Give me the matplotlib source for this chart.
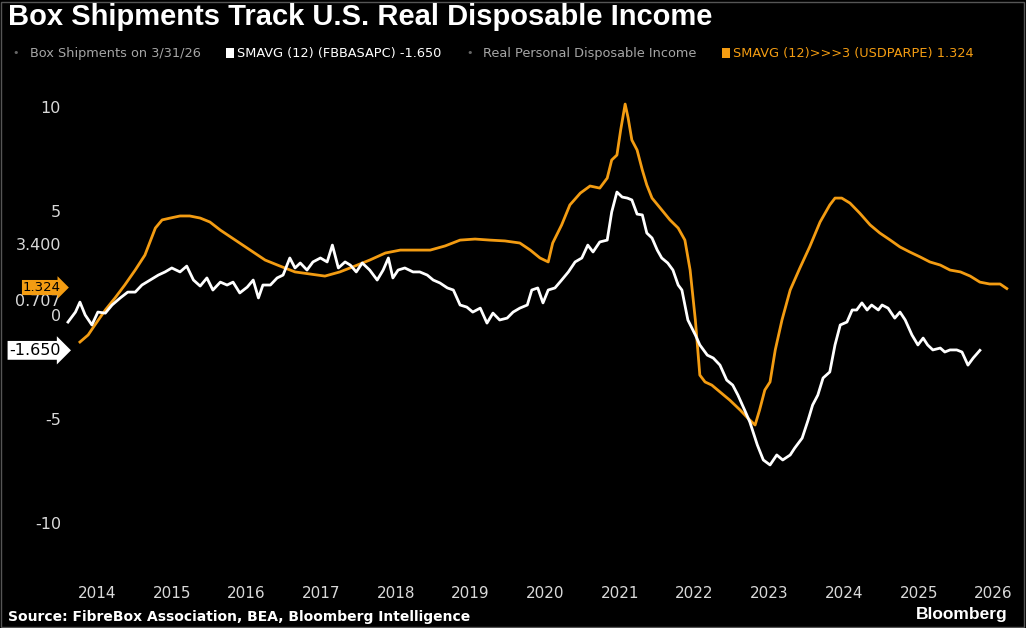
import matplotlib
matplotlib.use("Agg")
import matplotlib.pyplot as plt
from matplotlib.transforms import blended_transform_factory
from matplotlib.patches import Rectangle

# box shipments, 12-month SMA of YoY % (FBBASAPC)
box_t = [2013.61, 2013.71, 2013.77, 2013.84, 2013.93, 2014.01, 2014.11, 2014.20, 2014.31, 2014.41,
         2014.51, 2014.60, 2014.71, 2014.82, 2014.91, 2015.00, 2015.11, 2015.20, 2015.29, 2015.38,
         2015.47, 2015.55, 2015.65, 2015.74, 2015.82, 2015.91, 2016.01, 2016.09, 2016.16, 2016.22,
         2016.32, 2016.41, 2016.49, 2016.58, 2016.65, 2016.72, 2016.81, 2016.89, 2016.99, 2017.08,
         2017.15, 2017.23, 2017.32, 2017.39, 2017.47, 2017.55, 2017.65, 2017.75, 2017.83, 2017.90,
         2017.96, 2018.03, 2018.12, 2018.23, 2018.32, 2018.42, 2018.50, 2018.59, 2018.69, 2018.77,
         2018.86, 2018.95, 2019.03, 2019.13, 2019.22, 2019.30, 2019.39, 2019.49, 2019.57, 2019.66,
         2019.76, 2019.82, 2019.90, 2019.97, 2020.04, 2020.13, 2020.22, 2020.31, 2020.40, 2020.49,
         2020.57, 2020.64, 2020.73, 2020.83, 2020.89, 2020.96, 2021.03, 2021.10, 2021.16, 2021.23,
         2021.30, 2021.36, 2021.43, 2021.50, 2021.56, 2021.64, 2021.71, 2021.78, 2021.83, 2021.91,
         2022.01, 2022.07, 2022.17, 2022.25, 2022.34, 2022.43, 2022.51, 2022.58, 2022.67, 2022.74,
         2022.84, 2022.92, 2023.01, 2023.10, 2023.18, 2023.28, 2023.34, 2023.44, 2023.52, 2023.58,
         2023.65, 2023.72, 2023.81, 2023.88, 2023.95, 2024.04, 2024.11, 2024.17, 2024.24, 2024.31,
         2024.37, 2024.46, 2024.51, 2024.59, 2024.68, 2024.75, 2024.82, 2024.91, 2024.99, 2025.06,
         2025.12, 2025.19, 2025.29, 2025.35, 2025.42, 2025.51, 2025.58, 2025.66, 2025.73, 2025.82]
box_v = [-0.29, 0.19, 0.67, 0.05, -0.43, 0.19, 0.14, 0.53, 0.87, 1.15,
         1.15, 1.49, 1.73, 1.97, 2.12, 2.31, 2.12, 2.40, 1.73, 1.44,
         1.83, 1.25, 1.63, 1.49, 1.63, 1.11, 1.39, 1.73, 0.87, 1.49,
         1.49, 1.83, 1.97, 2.79, 2.31, 2.55, 2.21, 2.60, 2.79, 2.60,
         3.41, 2.31, 2.60, 2.45, 2.12, 2.55, 2.21, 1.73, 2.21, 2.79,
         1.83, 2.21, 2.31, 2.12, 2.12, 1.97, 1.73, 1.59, 1.35, 1.25,
         0.53, 0.43, 0.19, 0.38, -0.34, 0.14, -0.19, -0.10, 0.19, 0.38,
         0.53, 1.25, 1.35, 0.63, 1.25, 1.35, 1.73, 2.12, 2.60, 2.79,
         3.41, 3.08, 3.56, 3.65, 5.00, 5.96, 5.72, 5.67, 5.58, 4.90,
         4.86, 3.99, 3.75, 3.17, 2.79, 2.55, 2.21, 1.49, 1.25, -0.19,
         -0.91, -1.39, -1.88, -2.02, -2.36, -3.08, -3.32, -3.80, -4.52, -5.10,
         -6.20, -6.92, -7.16, -6.68, -6.92, -6.68, -6.35, -5.87, -5.00, -4.28,
         -3.80, -2.98, -2.69, -1.39, -0.43, -0.29, 0.29, 0.29, 0.63, 0.29,
         0.53, 0.29, 0.53, 0.38, -0.10, 0.19, -0.19, -0.91, -1.39, -1.06,
         -1.39, -1.63, -1.54, -1.73, -1.63, -1.63, -1.73, -2.36, -2.02, -1.65]

# real personal disposable income, 12-month SMA YoY %, led 3 months (USDPARPE)
inc_t = [2013.77, 2013.88, 2013.97, 2014.11, 2014.24, 2014.37, 2014.51, 2014.64, 2014.78, 2014.87,
         2014.98, 2015.11, 2015.24, 2015.38, 2015.51, 2015.65, 2015.85, 2016.05, 2016.25, 2016.45,
         2016.65, 2016.85, 2017.05, 2017.25, 2017.45, 2017.65, 2017.86, 2018.06, 2018.26, 2018.46,
         2018.66, 2018.86, 2019.06, 2019.26, 2019.46, 2019.66, 2019.80, 2019.93, 2020.04, 2020.10,
         2020.22, 2020.33, 2020.47, 2020.60, 2020.73, 2020.83, 2020.89, 2020.96, 2021.01, 2021.07,
         2021.11, 2021.16, 2021.23, 2021.30, 2021.36, 2021.43, 2021.54, 2021.67, 2021.78, 2021.87,
         2021.94, 2022.01, 2022.07, 2022.14, 2022.23, 2022.34, 2022.47, 2022.61, 2022.71, 2022.81,
         2022.87, 2022.94, 2023.01, 2023.08, 2023.17, 2023.28, 2023.41, 2023.54, 2023.68, 2023.81,
         2023.88, 2023.97, 2024.08, 2024.21, 2024.35, 2024.48, 2024.62, 2024.75, 2024.88, 2025.02,
         2025.15, 2025.29, 2025.42, 2025.56, 2025.69, 2025.82, 2025.95, 2026.09, 2026.18]
inc_v = [-1.25, -0.91, -0.43, 0.29, 0.87, 1.49, 2.21, 2.93, 4.23, 4.62,
         4.71, 4.81, 4.81, 4.71, 4.52, 4.13, 3.65, 3.17, 2.69, 2.40,
         2.12, 2.02, 1.92, 2.12, 2.40, 2.69, 3.03, 3.17, 3.17, 3.17,
         3.37, 3.65, 3.70, 3.65, 3.61, 3.51, 3.17, 2.79, 2.60, 3.51,
         4.38, 5.34, 5.91, 6.25, 6.15, 6.63, 7.50, 7.74, 8.94, 10.19,
         9.52, 8.46, 7.98, 7.02, 6.30, 5.67, 5.19, 4.62, 4.23, 3.65,
         2.21, -0.19, -2.84, -3.17, -3.32, -3.65, -4.04, -4.52, -4.90, -5.24,
         -4.52, -3.56, -3.17, -1.63, -0.19, 1.25, 2.31, 3.32, 4.52, 5.34,
         5.67, 5.67, 5.43, 4.95, 4.38, 3.99, 3.65, 3.32, 3.08, 2.84,
         2.60, 2.45, 2.21, 2.12, 1.92, 1.63, 1.54, 1.54, 1.32]

years = list(range(2014, 2027))
ytick_vals = [10, 5, 3.4, 0.707, 0, -5, -10]
ytick_labels = ["10", "5", "3.400", "0.707", "0", "-5", "-10"]

ORANGE = "#f39c12"; BG = "black"; GRAY = "#a6a6a6"

W, H = 1026, 628
fig = plt.figure(figsize=(W / 100, H / 100), dpi=100, facecolor=BG)
ax = fig.add_axes([65 / W, (H - 570) / H, 950 / W, 530 / H], facecolor=BG)
ax.set_xlim(2013.57, 2026.29)
ax.set_ylim(-12.21, 13.27)
for s in ax.spines.values():
    s.set_visible(False)
ax.set_xticks([]); ax.set_yticks([])

ax.plot(inc_t, inc_v, color=ORANGE, lw=2.0, zorder=3)
ax.plot(box_t, box_v, color="white", lw=2.0, zorder=4)

# y labels at left, right-aligned
tr = blended_transform_factory(fig.transFigure, ax.transData)
for v, lab in zip(ytick_vals, ytick_labels):
    ax.text(61 / W, v, lab, transform=tr, ha="right", va="center", color="#d9d9d9",
            fontsize=11.5, family="DejaVu Sans", clip_on=False, zorder=5)
ax.text(61 / W, inc_v[-1] + 0.05, "1.324", transform=tr, ha="right", va="center", color="black",
        fontsize=9.5, clip_on=False, zorder=6,
        bbox=dict(boxstyle="rarrow,pad=0.08", fc=ORANGE, ec="none"))
ax.text(61 / W, box_v[-1], "-1.650", transform=tr, ha="right", va="center", color="black",
        fontsize=11.5, clip_on=False, zorder=6,
        bbox=dict(boxstyle="rarrow,pad=0.12", fc="white", ec="none"))

# year labels below
trx = blended_transform_factory(ax.transData, fig.transFigure)
for yr in years:
    ax.text(yr, (H - 593) / H, str(yr), transform=trx, ha="center", va="center",
            color="#d9d9d9", fontsize=11, clip_on=False)

fig.text(8 / W, (H - 17) / H, "Box Shipments Track U.S. Real Disposable Income", color="white",
         fontsize=21, fontweight="bold", family="Liberation Sans", va="center")

# legend row
ly = (H - 53) / H
fig.text(12 / W, ly, "\u2022", color="#666666", fontsize=8, va="center")
fig.text(30 / W, ly, "Box Shipments on 3/31/26", color=GRAY, fontsize=9.3, va="center")
fig.add_artist(Rectangle((226 / W, ly - 0.008), 8 / W, 0.016, transform=fig.transFigure,
                         fc="white", ec="none"))
fig.text(237 / W, ly, "SMAVG (12) (FBBASAPC) -1.650", color="white", fontsize=9.3, va="center")
fig.text(466 / W, ly, "\u2022", color="#666666", fontsize=8, va="center")
fig.text(483 / W, ly, "Real Personal Disposable Income", color=GRAY, fontsize=9.3, va="center")
fig.add_artist(Rectangle((722 / W, ly - 0.008), 8 / W, 0.016, transform=fig.transFigure,
                         fc=ORANGE, ec="none"))
fig.text(733 / W, ly, "SMAVG (12)>>>3 (USDPARPE) 1.324", color=ORANGE, fontsize=9.3, va="center")

fig.text(8 / W, (H - 617) / H, "Source: FibreBox Association, BEA, Bloomberg Intelligence",
         color="white", fontsize=10, fontweight="bold", family="DejaVu Sans", va="center")
fig.text(1008 / W, (H - 614) / H, "Bloomberg", color="white", fontsize=12.5, fontweight="bold",
         family="Liberation Sans", ha="right", va="center")

fig.add_artist(Rectangle((1 / W, 1 / H), (W - 3) / W, (H - 3) / H, transform=fig.transFigure,
                         fc="none", ec="#555555", lw=1))
fig.savefig("out.png", dpi=100, facecolor=BG)
